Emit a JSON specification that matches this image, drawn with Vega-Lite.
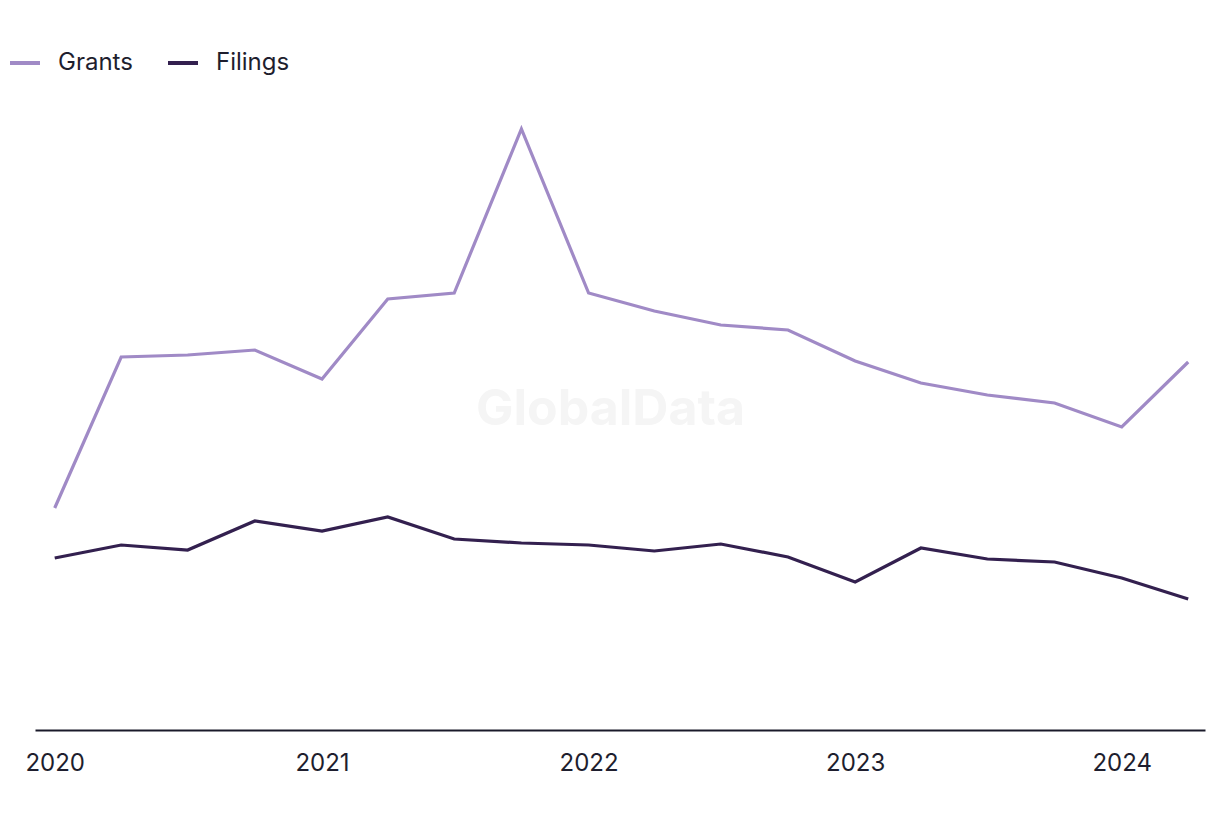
{
  "$schema": "https://vega.github.io/schema/vega-lite/v6.json",
  "width": 1170,
  "height": 630,
  "autosize": {"type": "none"},
  "padding": {"left": 35, "top": 100, "right": 15, "bottom": 90},
  "background": "#ffffff",
  "config": {
    "view": {"stroke": null},
    "axis": {"labelFont": "Inter", "labelColor": "#1e1e2e"},
    "legend": {"labelFont": "Inter", "labelColor": "#1e1e2e"}
  },
  "layer": [
    {
      "data": {"values": [
        {"date": "2020-01-01", "series": "Grants", "value": 222},
        {"date": "2020-04-01", "series": "Grants", "value": 373},
        {"date": "2020-07-01", "series": "Grants", "value": 375},
        {"date": "2020-10-01", "series": "Grants", "value": 380},
        {"date": "2021-01-01", "series": "Grants", "value": 351},
        {"date": "2021-04-01", "series": "Grants", "value": 431},
        {"date": "2021-07-01", "series": "Grants", "value": 437},
        {"date": "2021-10-01", "series": "Grants", "value": 601},
        {"date": "2022-01-01", "series": "Grants", "value": 437},
        {"date": "2022-04-01", "series": "Grants", "value": 419},
        {"date": "2022-07-01", "series": "Grants", "value": 405},
        {"date": "2022-10-01", "series": "Grants", "value": 400},
        {"date": "2023-01-01", "series": "Grants", "value": 369},
        {"date": "2023-04-01", "series": "Grants", "value": 347},
        {"date": "2023-07-01", "series": "Grants", "value": 335},
        {"date": "2023-10-01", "series": "Grants", "value": 327},
        {"date": "2024-01-01", "series": "Grants", "value": 303},
        {"date": "2024-04-01", "series": "Grants", "value": 368},
        {"date": "2020-01-01", "series": "Filings", "value": 172},
        {"date": "2020-04-01", "series": "Filings", "value": 185},
        {"date": "2020-07-01", "series": "Filings", "value": 180},
        {"date": "2020-10-01", "series": "Filings", "value": 209},
        {"date": "2021-01-01", "series": "Filings", "value": 199},
        {"date": "2021-04-01", "series": "Filings", "value": 213},
        {"date": "2021-07-01", "series": "Filings", "value": 191},
        {"date": "2021-10-01", "series": "Filings", "value": 187},
        {"date": "2022-01-01", "series": "Filings", "value": 185},
        {"date": "2022-04-01", "series": "Filings", "value": 179},
        {"date": "2022-07-01", "series": "Filings", "value": 186},
        {"date": "2022-10-01", "series": "Filings", "value": 173},
        {"date": "2023-01-01", "series": "Filings", "value": 148},
        {"date": "2023-04-01", "series": "Filings", "value": 182},
        {"date": "2023-07-01", "series": "Filings", "value": 171},
        {"date": "2023-10-01", "series": "Filings", "value": 168},
        {"date": "2024-01-01", "series": "Filings", "value": 152},
        {"date": "2024-04-01", "series": "Filings", "value": 131}
      ]},
      "mark": {"type": "line", "strokeWidth": 3.2},
      "encoding": {
        "x": {
          "field": "date", "type": "temporal",
          "scale": {"domain": ["2019-12-05", "2024-04-24"], "nice": false},
          "axis": {
            "title": null, "format": "%Y", "tickCount": 5,
            "ticks": false, "grid": false, "domainColor": "#1a1a2a", "domainWidth": 2,
            "labelFontSize": 24, "labelPadding": 21, "labelFlush": false
          }
        },
        "y": {
          "field": "value", "type": "quantitative",
          "scale": {"domain": [0, 630], "nice": false, "zero": false},
          "axis": null
        },
        "color": {
          "field": "series", "type": "nominal",
          "scale": {"domain": ["Grants", "Filings"], "range": ["#a08ac6", "#33204f"]},
          "legend": {
            "title": null, "orient": "none", "direction": "horizontal",
            "legendX": -27, "legendY": -54,
            "symbolType": "stroke", "symbolSize": 900, "symbolStrokeWidth": 4,
            "labelFontSize": 24, "labelOffset": 16, "columnPadding": 27
          }
        }
      }
    },
    {
      "data": {"values": [{"label": "GlobalData", "date": "2022-01-31", "value": 320}]},
      "mark": {"type": "text", "fontSize": 50, "fontWeight": "bold", "color": "#f5f5f5", "font": "Inter"},
      "encoding": {
        "x": {"field": "date", "type": "temporal"},
        "y": {"field": "value", "type": "quantitative"},
        "text": {"field": "label"}
      }
    }
  ]
}
